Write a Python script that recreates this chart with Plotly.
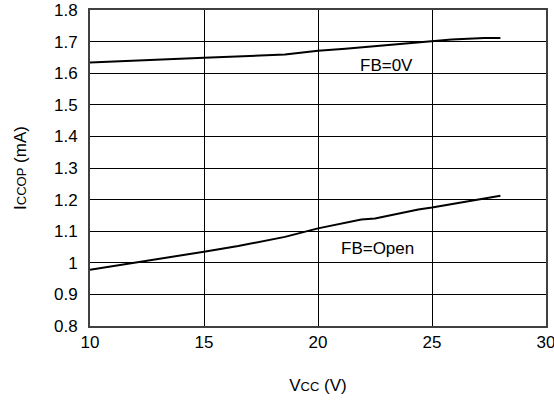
import plotly.graph_objects as go

vcc_0v = [10, 13.87, 15.0, 18.55, 20.0, 21.2, 25.0, 25.86, 27.3, 28.0]
icc_0v = [1.634, 1.644, 1.649, 1.659, 1.671, 1.677, 1.701, 1.707, 1.711, 1.711]

vcc_open = [10, 13.87, 15.0, 16.5, 18.55, 20.0, 21.9, 22.5, 24.4, 25.0, 28.0]
icc_open = [0.978, 1.021, 1.035, 1.053, 1.082, 1.109, 1.137, 1.140, 1.169, 1.175, 1.212]

labels = ["FB=0V", "FB=Open"]
label_x = [23.0, 22.6]
label_y = [1.625, 1.045]

FONT = "Liberation Sans, Arial, sans-serif"

fig = go.Figure()
fig.add_trace(go.Scatter(x=vcc_0v, y=icc_0v, mode="lines",
                         line=dict(color="black", width=2), showlegend=False))
fig.add_trace(go.Scatter(x=vcc_open, y=icc_open, mode="lines",
                         line=dict(color="black", width=2), showlegend=False))

for t, lx, ly in zip(labels, label_x, label_y):
    fig.add_annotation(x=lx, y=ly, text=t, showarrow=False,
                       font=dict(family=FONT, size=17, color="black"))

fig.update_layout(
    width=554, height=401,
    margin=dict(l=90, r=8, t=10, b=75, autoexpand=False),
    paper_bgcolor="white", plot_bgcolor="white",
    font=dict(family=FONT, size=16, color="black"),
    xaxis=dict(range=[10, 30], dtick=5, tick0=10, showgrid=True,
               gridcolor="black", gridwidth=1, showline=True, mirror=True,
               linecolor="#404040", linewidth=2, ticks="", zeroline=False,
               tickfont=dict(size=17), automargin=False,
               ticklabeloverflow="allow",
               title=dict(text="V<span style='font-size:13px'>CC</span> (V)",
                          font=dict(size=17), standoff=28)),
    yaxis=dict(range=[0.8, 1.8], dtick=0.1, tick0=0.8, showgrid=True,
               gridcolor="black", gridwidth=1, showline=True, mirror=True,
               linecolor="#404040", linewidth=2, ticks="", zeroline=False,
               tickfont=dict(size=17), automargin=False,
               ticklabeloverflow="allow", ticklabelstandoff=7,
               title=dict(text="I<span style='font-size:13px'>CCOP</span> (mA)",
                          font=dict(size=17), standoff=23)),
)

fig.write_html("out.html", config={"displayModeBar": False},
               post_script="document.body.style.margin='0';")
